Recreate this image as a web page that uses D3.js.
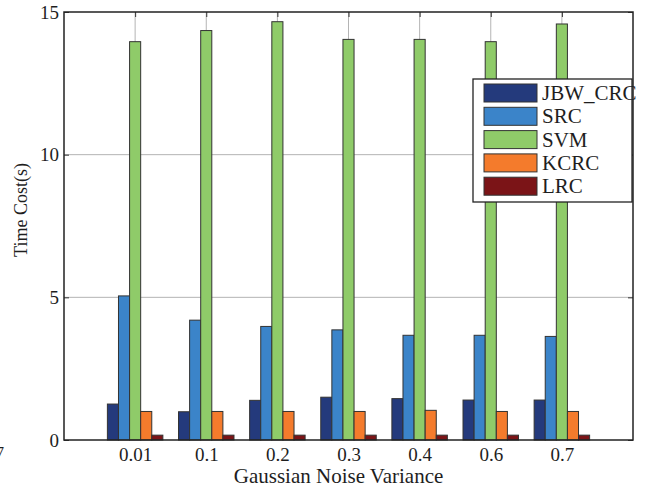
<!DOCTYPE html>
<html>
<head>
<meta charset="utf-8">
<script src="https://cdnjs.cloudflare.com/ajax/libs/d3/7.8.5/d3.min.js"></script>
<style>
  html, body { margin: 0; padding: 0; background: #fff; }
  svg { display: block; }
  text { font-family: "Liberation Serif", "DejaVu Serif", serif; fill: #1e1e1e; }
</style>
</head>
<body>
<div id="chart"></div>
<script>
// data
const categories = ['0.01', '0.1', '0.2', '0.3', '0.4', '0.6', '0.7'];
const seriesNames = ['JBW_CRC', 'SRC', 'SVM', 'KCRC', 'LRC'];
const jbwCrc = [1.26, 0.99, 1.39, 1.50, 1.45, 1.40, 1.40];
const src = [5.05, 4.20, 3.98, 3.86, 3.67, 3.67, 3.63];
const svm = [13.96, 14.35, 14.66, 14.04, 14.04, 13.96, 14.58];
const kcrc = [1.00, 1.00, 1.00, 1.00, 1.04, 1.00, 1.00];
const lrc = [0.17, 0.17, 0.17, 0.17, 0.17, 0.17, 0.17];
const yTicks = [0, 5, 10, 15];
const colors = ['#243a7c', '#3b84c9', '#8fcb69', '#f47b2c', '#7b1417'];

const seriesValues = [jbwCrc, src, svm, kcrc, lrc];

const width = 645, height = 489;
const margin = { top: 12, right: 12, bottom: 49, left: 64 };
const plotW = width - margin.left - margin.right;
const plotH = height - margin.top - margin.bottom;

const svg = d3.select('#chart').append('svg')
  .attr('width', width)
  .attr('height', height);

const g = svg.append('g').attr('transform', `translate(${margin.left},${margin.top})`);

// categories sit at 1..7, axis runs 0..8 like matlab
const x = d3.scaleLinear().domain([0, categories.length + 1]).range([0, plotW]);
const y = d3.scaleLinear().domain([0, 15]).range([plotH, 0]);
const inner = d3.scaleBand().domain(seriesNames).range([-0.39, 0.39]).padding(0);

// grid lines
g.append('g').selectAll('line.hg')
  .data(yTicks.filter(d => d > 0 && d < 15))
  .enter().append('line')
  .attr('x1', 0).attr('x2', plotW)
  .attr('y1', d => y(d)).attr('y2', d => y(d))
  .attr('stroke', '#b4b4b4').attr('stroke-width', 1);

g.append('g').selectAll('line.vg')
  .data(categories)
  .enter().append('line')
  .attr('x1', (d, i) => x(i + 1)).attr('x2', (d, i) => x(i + 1))
  .attr('y1', 0).attr('y2', plotH)
  .attr('stroke', '#b4b4b4').attr('stroke-width', 1);

// bars
const barW = x(inner.bandwidth()) - x(0);
seriesNames.forEach((name, s) => {
  g.append('g').selectAll('rect')
    .data(seriesValues[s])
    .enter().append('rect')
    .attr('x', (d, i) => x(i + 1 + inner(name)))
    .attr('y', d => y(d))
    .attr('width', barW)
    .attr('height', d => y(0) - y(d))
    .attr('fill', colors[s])
    .attr('stroke', '#333')
    .attr('stroke-width', 1);
});

// axes, ticks point inward
const yAxis = d3.axisLeft(y).tickValues(yTicks).tickSize(-5).tickPadding(5).tickFormat(d3.format('d'));
const yAxisG = g.append('g').call(yAxis);
yAxisG.select('.domain').remove();
yAxisG.selectAll('text').attr('font-size', 19).style('font-family', '"Liberation Serif", serif').attr('fill', '#1e1e1e');
yAxisG.selectAll('line').attr('stroke', '#333');

const yAxisR = d3.axisRight(y).tickValues(yTicks).tickSize(-5).tickFormat('');
const yAxisRG = g.append('g').attr('transform', `translate(${plotW},0)`).call(yAxisR);
yAxisRG.select('.domain').remove();
yAxisRG.selectAll('line').attr('stroke', '#333');

const xAxis = d3.axisBottom(x).tickValues(d3.range(1, categories.length + 1))
  .tickSize(0).tickPadding(8).tickFormat(d => categories[d - 1]);
const xAxisG = g.append('g').attr('transform', `translate(0,${plotH})`).call(xAxis);
xAxisG.select('.domain').remove();
xAxisG.selectAll('text').attr('font-size', 19).style('font-family', '"Liberation Serif", serif').attr('fill', '#1e1e1e');

const xAxisT = d3.axisBottom(x).tickValues(d3.range(1, categories.length + 1)).tickSize(5).tickFormat('');
const xAxisTG = g.append('g').call(xAxisT);
xAxisTG.select('.domain').remove();
xAxisTG.selectAll('line').attr('stroke', '#333');

// frame
g.append('rect')
  .attr('x', 0).attr('y', 0)
  .attr('width', plotW).attr('height', plotH)
  .attr('fill', 'none').attr('stroke', '#222').attr('stroke-width', 1.5);

// axis titles
svg.append('text')
  .attr('x', margin.left + plotW * 0.4825)
  .attr('y', 483)
  .attr('text-anchor', 'middle')
  .attr('font-size', 21)
  .text('Gaussian Noise Variance');

svg.append('text')
  .attr('transform', 'translate(27,210) rotate(-90)')
  .attr('text-anchor', 'middle')
  .attr('font-size', 18)
  .text('Time Cost(s)');

// stray glyph from the neighbouring figure at bottom left
svg.append('text')
  .attr('x', -4).attr('y', 458)
  .attr('font-size', 16)
  .text('7');

// legend
const legend = svg.append('g').attr('transform', 'translate(473,79)');
legend.append('rect')
  .attr('width', 159).attr('height', 123)
  .attr('fill', '#fff');
const rowH = 23.3;
const item = legend.selectAll('g.item')
  .data(seriesNames)
  .enter().append('g')
  .attr('transform', (d, i) => `translate(11,${5 + i * rowH})`);
item.append('rect')
  .attr('width', 53).attr('height', 18)
  .attr('fill', (d, i) => colors[i])
  .attr('stroke', '#333').attr('stroke-width', 1);
item.append('text')
  .attr('x', 58).attr('y', 16)
  .attr('font-size', 21)
  .text(d => d);
legend.append('rect')
  .attr('width', 159).attr('height', 123)
  .attr('fill', 'none')
  .attr('stroke', '#222').attr('stroke-width', 1.3);
</script>
</body>
</html>
